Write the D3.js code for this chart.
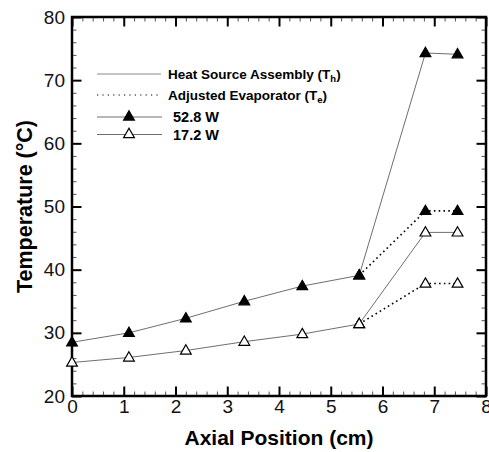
<!DOCTYPE html>
<html>
<head>
<meta charset="utf-8">
<script src="https://cdn.jsdelivr.net/npm/d3@7"></script>
<style>
  html, body { margin: 0; padding: 0; background: #fff; }
  svg { display: block; font-family: "Liberation Sans", Arial, Helvetica, sans-serif; }
</style>
</head>
<body>
<svg id="chart" width="489" height="452"></svg>
<script>
// Axial positions along the heat source (cm)
const positions = [0, 1.1, 2.2, 3.33, 4.45, 5.55, 6.83, 7.45];
// Heat source assembly temperatures T_h (°C)
const th528 = [28.5, 30.0, 32.3, 35.0, 37.4, 39.1, 74.3, 74.1];
const th172 = [25.3, 26.1, 27.2, 28.6, 29.8, 31.4, 45.9, 45.9];
// Adjusted evaporator temperatures T_e (°C)
const tePositions = [5.55, 6.83, 7.45];
const te528 = [39.1, 49.3, 49.3];
const te172 = [31.4, 37.8, 37.8];

const xTicks = [0, 1, 2, 3, 4, 5, 6, 7, 8];
const yTicks = [20, 30, 40, 50, 60, 70, 80];
const legendLabels = ["Heat Source Assembly", "Adjusted Evaporator", "52.8 W", "17.2 W"];

const svg = d3.select("#chart");
const m = { left: 72, right: 486, top: 17, bottom: 396 };

const x = d3.scaleLinear().domain([0, 8]).range([m.left, m.right]);
const y = d3.scaleLinear().domain([20, 80]).range([m.bottom, m.top]);

const lineGray = "#6e6e6e";

// Minor and major ticks on all four sides, pointing inward
const xMinor = d3.range(0, 8.0001, 0.2).filter(v => Math.abs(v - Math.round(v)) > 1e-6);
const yMinor = d3.range(20, 80.0001, 2).filter(v => v % 10 !== 0);

function addAxis(makeAxis, tr, major, minor, showLabels) {
  const gMinor = svg.append("g").attr("transform", tr)
    .call(makeAxis().tickValues(minor).tickSize(-4.5).tickFormat(""));
  gMinor.select(".domain").remove();
  gMinor.selectAll(".tick line").attr("stroke", "#555").attr("stroke-width", 1);

  const gMajor = svg.append("g").attr("transform", tr)
    .call(makeAxis().tickValues(major).tickSize(-9.5).tickPadding(showLabels ? 14 : 0)
      .tickFormat(showLabels ? d3.format("d") : ""));
  gMajor.select(".domain").remove();
  gMajor.selectAll(".tick line").attr("stroke", "#000").attr("stroke-width", 2);
  gMajor.selectAll(".tick text").attr("font-size", 19).attr("fill", "#111")
    .attr("font-family", "'Liberation Sans', Arial, sans-serif");
  return gMajor;
}

const gxb = addAxis(() => d3.axisBottom(x), `translate(0,${m.bottom})`, xTicks, xMinor, true);
gxb.selectAll(".tick text").attr("y", 3).attr("dy", "0.71em");
addAxis(() => d3.axisTop(x), `translate(0,${m.top})`, xTicks, xMinor, false);
const gyl = addAxis(() => d3.axisLeft(y), `translate(${m.left},0)`, yTicks, yMinor, true);
gyl.selectAll(".tick text").attr("x", -7);
addAxis(() => d3.axisRight(y), `translate(${m.right},0)`, yTicks, yMinor, false);

// Plot frame
svg.append("rect")
  .attr("x", m.left).attr("y", m.top)
  .attr("width", m.right - m.left).attr("height", m.bottom - m.top)
  .attr("fill", "none").attr("stroke", "#000").attr("stroke-width", 2.5);

// Axis titles
svg.append("text")
  .attr("x", (m.left + m.right) / 2).attr("y", 445)
  .attr("text-anchor", "middle").attr("font-size", 21).attr("font-weight", "bold")
  .text("Axial Position (cm)");

svg.append("text")
  .attr("transform", `translate(32,${(m.top + m.bottom) / 2}) rotate(-90)`)
  .attr("text-anchor", "middle").attr("font-size", 21.5).attr("font-weight", "bold")
  .text("Temperature (°C)");

// Series
const lineGen = d3.line().x(d => x(d[0])).y(d => y(d[1]));
const zip = (a, b) => a.map((v, i) => [v, b[i]]);

const triangle = d3.symbol().type(d3.symbolTriangle).size(50);

function drawSeries(xs, ys, dotted, filled) {
  const pts = zip(xs, ys);
  const path = svg.append("path").datum(pts)
    .attr("d", lineGen).attr("fill", "none");
  if (dotted) {
    path.attr("stroke", "#000").attr("stroke-width", 1.6).attr("stroke-dasharray", "1.6 3.2");
  } else {
    path.attr("stroke", lineGray).attr("stroke-width", 1);
  }
  svg.append("g").selectAll("path").data(pts).join("path")
    .attr("transform", d => `translate(${x(d[0])},${y(d[1]) + 0.5})`)
    .attr("d", triangle)
    .attr("fill", filled ? "#000" : "#fff")
    .attr("stroke", "#000").attr("stroke-width", 1.2);
}

drawSeries(tePositions, te172, true, false);
drawSeries(tePositions, te528, true, true);
drawSeries(positions, th172, false, false);
drawSeries(positions, th528, false, true);

// Legend
const lg = svg.append("g").attr("font-weight", "bold").attr("font-size", 13.5);
const lx0 = 97, lx1 = 161;

lg.append("line").attr("x1", lx0).attr("x2", lx1).attr("y1", 74).attr("y2", 74)
  .attr("stroke", "#8a8a8a").attr("stroke-width", 1);
const t1 = lg.append("text").attr("x", 168).attr("y", 79).text(legendLabels[0] + " (T");
t1.append("tspan").attr("font-size", 9.5).attr("dy", 3).text("h");
t1.append("tspan").attr("dy", -3).text(")");

lg.append("line").attr("x1", lx0).attr("x2", lx1).attr("y1", 95).attr("y2", 95)
  .attr("stroke", "#000").attr("stroke-width", 1.2).attr("stroke-dasharray", "1.2 4.2");
const t2 = lg.append("text").attr("x", 168).attr("y", 100).text(legendLabels[1] + " (T");
t2.append("tspan").attr("font-size", 9.5).attr("dy", 3).text("e");
t2.append("tspan").attr("dy", -3).text(")");

[[117, true, legendLabels[2]], [134.5, false, legendLabels[3]]].forEach(([ly, filled, label]) => {
  lg.append("line").attr("x1", lx0).attr("x2", lx1 + 1).attr("y1", ly).attr("y2", ly)
    .attr("stroke", lineGray).attr("stroke-width", 1);
  lg.append("path").attr("transform", `translate(129,${ly})`).attr("d", triangle)
    .attr("fill", filled ? "#000" : "#fff").attr("stroke", "#000").attr("stroke-width", 1.2);
  lg.append("text").attr("x", 173).attr("y", ly + 5).attr("font-size", 14.5).text(label);
});
</script>
</body>
</html>
